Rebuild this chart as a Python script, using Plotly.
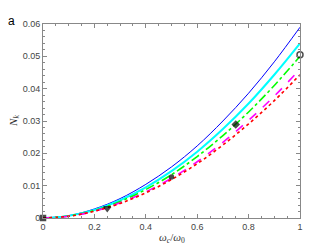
import plotly.graph_objects as go

x = [0, 0.1, 0.2, 0.3, 0.4, 0.5, 0.6, 0.7, 0.8, 0.9, 1.0]
blue = [0, 0.00074, 0.0028, 0.0060, 0.0104, 0.0158, 0.0223, 0.0300, 0.0386, 0.0483, 0.0590]
cyan = [0, 0.00066, 0.0025, 0.0055, 0.0095, 0.0145, 0.0205, 0.0275, 0.0354, 0.0443, 0.0540]
green = [0, 0.00060, 0.0023, 0.0051, 0.0088, 0.0134, 0.0190, 0.0255, 0.0328, 0.0410, 0.0500]
magenta = [0, 0.00055, 0.0021, 0.0047, 0.0081, 0.0123, 0.0174, 0.0234, 0.0302, 0.0377, 0.0460]
red = [0, 0.00053, 0.0021, 0.0045, 0.0078, 0.0119, 0.0168, 0.0226, 0.0291, 0.0363, 0.0443]

mx = [0, 0.25, 0.5, 0.75, 1.0]
my = [0, 0.0030, 0.0127, 0.0289, 0.0505]
msym = ["square", "triangle-down", "circle", "diamond", "circle-open"]
msize = [5, 6, 4, 5, 6]

xticks = [0, 0.2, 0.4, 0.6, 0.8, 1]
xtick_text = ["0", "0.2", "0.4", "0.6", "0.8", "1"]
yticks = [0, 0.01, 0.02, 0.03, 0.04, 0.05, 0.06]
ytick_text = ["0", "0.01", "0.02", "0.03", "0.04", "0.05", "0.06"]

fig = go.Figure()
styles = [
    (blue, "#0000ff", 1, "solid"),
    (cyan, "#00ffff", 2, "solid"),
    (green, "#00ff00", 1.6, "dashdot"),
    (magenta, "#ff00ff", 1.6, "dash"),
    (red, "#ff0000", 1.6, "dot"),
]
for ys, c, w, d in styles:
    fig.add_trace(go.Scatter(x=x, y=ys, mode="lines", line=dict(color=c, width=w, dash=d, shape="spline"),
                             cliponaxis=False, showlegend=False))

fig.add_trace(go.Scatter(x=mx, y=my, mode="markers", cliponaxis=False, showlegend=False,
                         marker=dict(symbol=msym, size=msize, color="black",
                                     line=dict(color="black", width=1.5))))

axis_common = dict(showgrid=False, zeroline=False, showline=True, linecolor="#888888", linewidth=1,
                   mirror="ticks", ticks="inside", ticklen=4, tickcolor="#888888",
                   tickfont=dict(family="Liberation Sans, Arial", size=9, color="#444444"))

fig.update_xaxes(range=[0, 1], tickvals=xticks, ticktext=xtick_text,
                 minor=dict(ticks="inside", ticklen=2, dtick=0.05, tickcolor="#888888"),
                 **axis_common)
fig.update_yaxes(range=[0, 0.06], tickvals=yticks, ticktext=ytick_text,
                 minor=dict(ticks="inside", ticklen=2, dtick=0.002, tickcolor="#888888"),
                 **axis_common)

fig.update_layout(
    width=324, height=241,
    margin=dict(l=35, r=32, t=11, b=31),
    paper_bgcolor="white", plot_bgcolor="white",
    annotations=[
        dict(text="a", x=-0.145, y=1.015, xref="paper", yref="paper", showarrow=False,
             font=dict(family="Liberation Sans, Arial", size=12, color="black"),
             xanchor="left", yanchor="middle"),
        dict(text="<i>N</i><sub><i>k</i></sub>", x=-0.148, y=0.5, xref="paper", yref="paper", showarrow=False,
             textangle=-90, font=dict(family="Liberation Serif, Times New Roman", size=11, color="#333333")),
        dict(text="<i>ω</i><sub><i>c</i></sub>/<i>ω</i><sub>0</sub>", x=0.5, y=-0.055, xref="paper", yref="paper",
             showarrow=False, yanchor="top",
             font=dict(family="Liberation Serif, Times New Roman", size=11, color="#333333")),
    ],
)

fig.write_html("out.html")
